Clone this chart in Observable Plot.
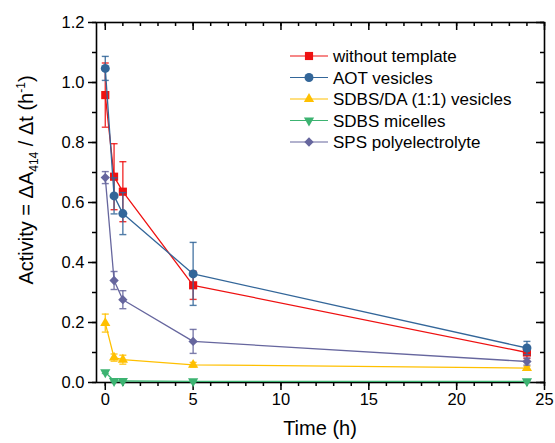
<!DOCTYPE html>
<html><head><meta charset="utf-8">
<script src="https://cdn.jsdelivr.net/npm/d3@7"></script>
<script src="https://cdn.jsdelivr.net/npm/@observablehq/plot@0.6"></script>
<style>
body{margin:0;background:#fff;font-family:"Liberation Sans",Arial,sans-serif}
#wrap{position:relative;width:555px;height:443px}
</style></head><body><div id="wrap"></div>
<script>
// ---- data ----
const times = [0, 0.5, 1, 5, 24];
const seriesNames = ["without template", "AOT vesicles", "SDBS/DA (1:1) vesicles", "SDBS micelles", "SPS polyelectrolyte"];
const withoutTemplate    = [0.958, 0.686, 0.636, 0.324, 0.100];
const withoutTemplateErr = [0.107, 0.110, 0.100, 0.047, 0.020];
const aotVesicles        = [1.047, 0.622, 0.563, 0.362, 0.115];
const aotVesiclesErr     = [0.040, 0.060, 0.070, 0.105, 0.022];
const sdbsDaVesicles     = [0.198, 0.083, 0.076, 0.059, 0.048];
const sdbsDaVesiclesErr  = [0.030, 0.012, 0.015, 0.008, 0.006];
const sdbsMicelles       = [0.034, 0.005, 0.005, 0.004, 0.004];
const sdbsMicellesErr    = [0.004, 0.002, 0.002, 0.002, 0.002];
const spsPoly            = [0.683, 0.340, 0.276, 0.137, 0.070];
const spsPolyErr         = [0.020, 0.030, 0.030, 0.040, 0.012];
const xMajorTicks = [0, 5, 10, 15, 20, 25];
const yMajorTicks = [0, 0.2, 0.4, 0.6, 0.8, 1.0, 1.2];

// ---- styles ----
const styles = [
  {color: "#ee1111", symbol: "square",   r: 4.6, rotate: 0},
  {color: "#336699", symbol: "circle",   r: 4.5, rotate: 0},
  {color: "#ffc000", symbol: "triangle", r: 3.8, rotate: 0},
  {color: "#3cb371", symbol: "triangle", r: 3.8, rotate: 180},
  {color: "#66669e", symbol: "diamond2", r: 4.2, rotate: 0}
];
const values = [withoutTemplate, aotVesicles, sdbsDaVesicles, sdbsMicelles, spsPoly];
const errors = [withoutTemplateErr, aotVesiclesErr, sdbsDaVesiclesErr, sdbsMicellesErr, spsPolyErr];

const W = 555, H = 443, mL = 96, mR = 11, mT = 22, mB = 61;
const plotW = W - mL - mR, plotH = H - mT - mB;
const xMinor = d3.range(0, 26, 1);
const yMinor = d3.range(0, 13, 1).map(d => d / 10);

const capSymbol = {draw(ctx) { ctx.moveTo(-3.5, 0); ctx.lineTo(3.5, 0); }};

const seriesMarks = seriesNames.flatMap((name, k) => {
  const st = styles[k];
  const rows = times.map((t, i) => ({t, v: values[k][i], e: errors[k][i]}));
  return [
    Plot.line(rows, {x: "t", y: "v", stroke: st.color, strokeWidth: 1.3}),
    Plot.ruleX(rows, {x: "t", y1: d => d.v - d.e, y2: d => d.v + d.e, stroke: st.color, strokeWidth: 1.4, strokeOpacity: 0.85}),
    Plot.dot(rows, {x: "t", y: d => d.v + d.e, symbol: capSymbol, fill: "none", stroke: st.color, strokeWidth: 1.4, strokeOpacity: 0.85}),
    Plot.dot(rows, {x: "t", y: d => d.v - d.e, symbol: capSymbol, fill: "none", stroke: st.color, strokeWidth: 1.4, strokeOpacity: 0.85}),
    Plot.dot(rows, {x: "t", y: "v", symbol: st.symbol, r: st.r, fill: st.color, stroke: "none", rotate: st.rotate})
  ];
});

const chart = Plot.plot({
  width: W, height: H,
  marginLeft: mL, marginRight: mR, marginTop: mT, marginBottom: mB,
  style: {fontFamily: "'Liberation Sans', Arial, sans-serif", fontSize: "16.5px", color: "black", background: "white"},
  x: {domain: [-0.5, 25]},
  y: {domain: [0, 1.2]},
  marks: [
    // bottom axis
    Plot.axisX({ticks: xMinor, tickSize: 4, tickFormat: () => "", label: null, strokeWidth: 1.5}),
    Plot.axisX({ticks: xMajorTicks, tickSize: 8, tickPadding: 3, tickFormat: d3.format("d"), label: null, strokeWidth: 1.5, fontSize: 16.5}),
    // left axis
    Plot.axisY({ticks: yMinor, tickSize: 4, tickFormat: () => "", label: null, strokeWidth: 1.5}),
    Plot.axisY({ticks: yMajorTicks, tickSize: 8, tickPadding: 4, tickFormat: d3.format(".1f"), label: null, strokeWidth: 1.5, fontSize: 16.5}),
    // mirror ticks inward (top, right)
    Plot.tickX(xMinor, {x: d => d, insetBottom: plotH - 4, stroke: "black", strokeWidth: 1.5}),
    Plot.tickX(xMajorTicks, {x: d => d, insetBottom: plotH - 8, stroke: "black", strokeWidth: 1.5}),
    Plot.tickY(yMinor, {y: d => d, insetLeft: plotW - 4, stroke: "black", strokeWidth: 1.5}),
    Plot.tickY(yMajorTicks, {y: d => d, insetLeft: plotW - 8, stroke: "black", strokeWidth: 1.5}),
    Plot.frame({stroke: "black", strokeWidth: 1.6}),
    ...seriesMarks
  ]
});

document.getElementById("wrap").appendChild(chart);
const svg = d3.select(chart);

// axis labels (with sub/superscripts)
svg.append("text")
  .attr("x", 320).attr("y", 435)
  .attr("text-anchor", "middle")
  .style("font-size", "20px").attr("fill", "black")
  .text("Time (h)");

const yl = svg.append("text")
  .attr("transform", "translate(33,180) rotate(-90)")
  .attr("text-anchor", "middle")
  .style("font-size", "20px").attr("fill", "black");
yl.append("tspan").text("Activity = \u0394A");
yl.append("tspan").attr("dy", 5).style("font-size", "12px").text("414");
yl.append("tspan").attr("dy", -5).text(" / \u0394t (h");
yl.append("tspan").attr("dy", -8).style("font-size", "12px").text("-1");
yl.append("tspan").attr("dy", 8).text(")");

// legend
const lg = svg.append("g").attr("transform", "translate(290,56)");
seriesNames.forEach((name, k) => {
  const st = styles[k];
  const g = lg.append("g").attr("transform", `translate(0,${k * 21.5})`);
  g.append("line").attr("x1", 0).attr("x2", 38).attr("y1", 0).attr("y2", 0)
    .attr("stroke", st.color).attr("stroke-width", 1.2);
  const symType = {square: d3.symbolSquare, circle: d3.symbolCircle, triangle: d3.symbolTriangle, diamond2: d3.symbolDiamond2}[st.symbol];
  g.append("path")
    .attr("d", d3.symbol(symType, Math.PI * st.r * st.r)())
    .attr("transform", `translate(19,0) rotate(${st.rotate})`)
    .attr("fill", st.color);
  g.append("text").attr("x", 43).attr("y", 0).attr("dy", "0.36em")
    .attr("text-anchor", "start")
    .style("font-size", "17px").attr("fill", "black").text(name);
});
</script></body></html>
